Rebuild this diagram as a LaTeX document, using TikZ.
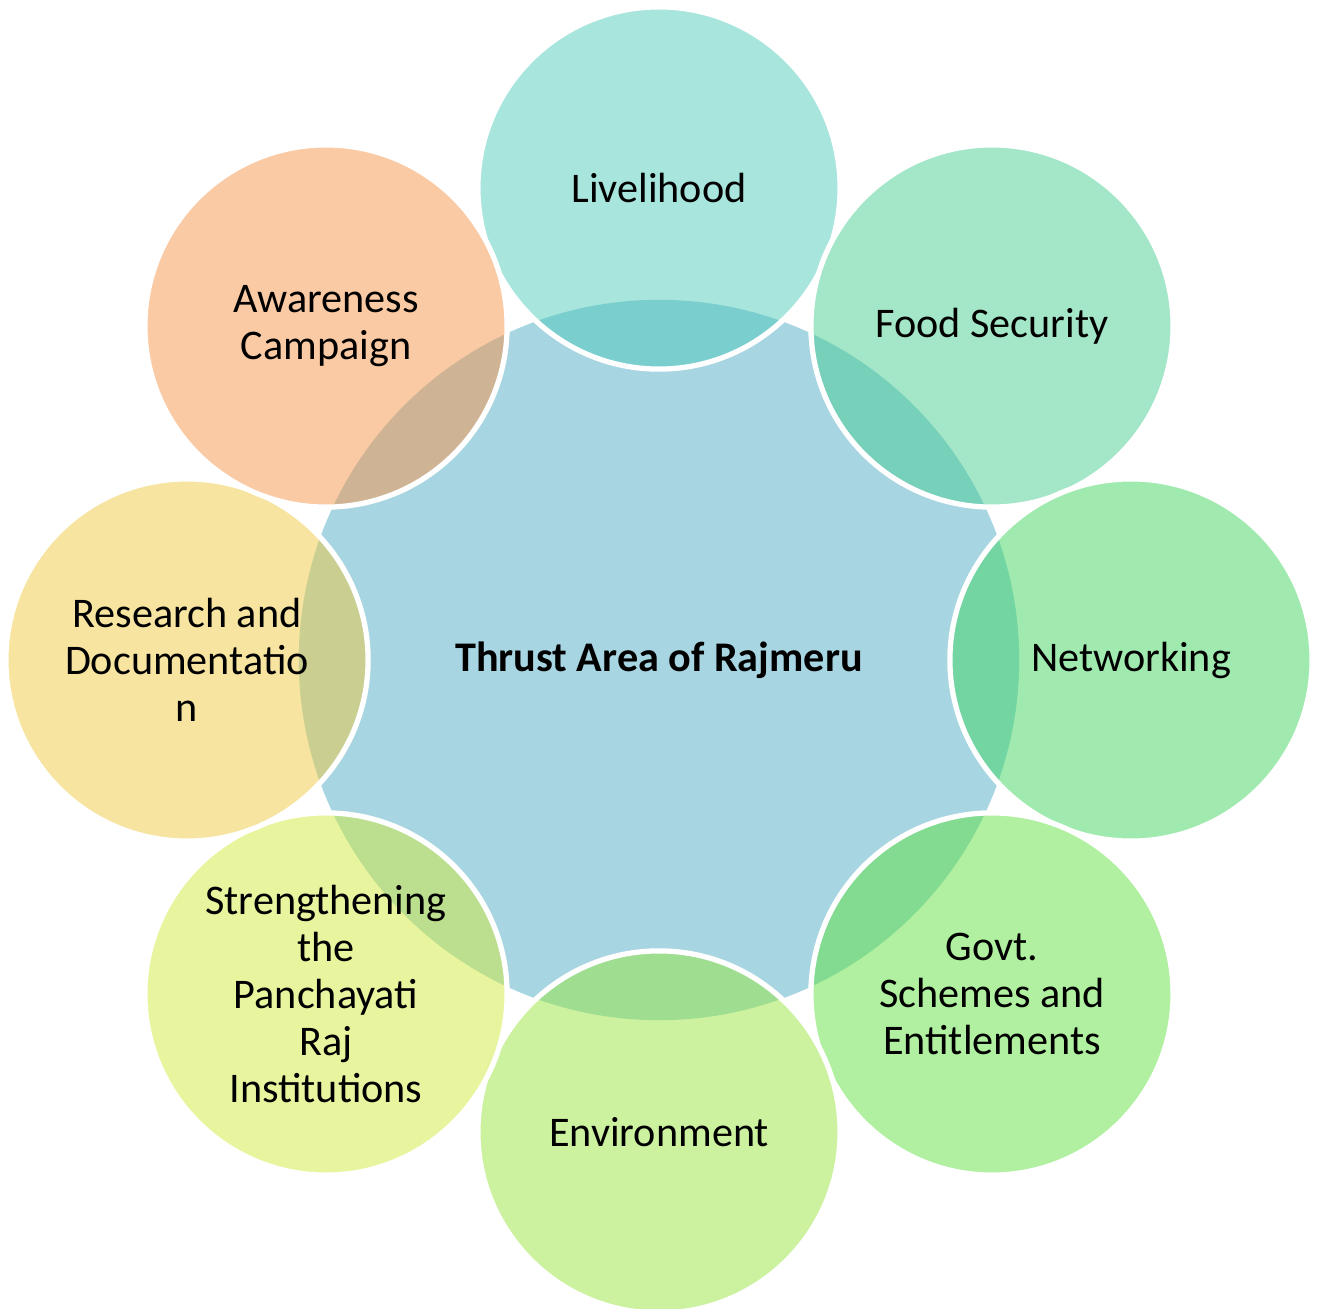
\documentclass[tikz,border=0pt]{standalone}
\usepackage{fontspec}
\setmainfont{Carlito}
\definecolor{centerblue}{RGB}{167,213,226}
\definecolor{cA}{RGB}{79,203,187}
\definecolor{cB}{RGB}{73,205,145}
\definecolor{cC}{RGB}{65,213,97}
\definecolor{cD}{RGB}{97,225,65}
\definecolor{cE}{RGB}{153,229,65}
\definecolor{cF}{RGB}{209,233,61}
\definecolor{cG}{RGB}{237,201,65}
\definecolor{cH}{RGB}{245,149,73}
\begin{document}
\begin{tikzpicture}[x=0.01cm,y=-0.01cm,
  outer/.style={circle, draw=white, line width=1.5pt, fill opacity=0.5, text opacity=1,
    minimum size=3.62cm, inner sep=0pt, align=center, font=\fontsize{12}{13.4}\selectfont},
  hub/.style={circle, fill=centerblue, minimum size=7.2cm, inner sep=0pt,
    font=\bfseries\fontsize{12}{13.4}\selectfont}
]
\useasboundingbox (0,0) rectangle (1320,1309);
\node[hub] (c) at (659,660) {Thrust Area of Rajmeru};
\node[outer, fill=cA] (n1) at (659,188) {Livelihood};
\node[outer, fill=cB] (n2) at (992,326) {Food Security};
\node[outer, fill=cC] (n3) at (1131,660) {Networking};
\node[outer, fill=cD] (n4) at (992,994) {Govt.\\Schemes and\\Entitlements};
\node[outer, fill=cE] (n5) at (659,1132) {Environment};
\node[outer, fill=cF] (n6) at (326,994) {Strengthening\\the\\Panchayati\\Raj\\Institutions};
\node[outer, fill=cG] (n7) at (187,660) {Research and\\Documentatio\\n};
\node[outer, fill=cH] (n8) at (326,326) {Awareness\\Campaign};
\end{tikzpicture}
\end{document}
